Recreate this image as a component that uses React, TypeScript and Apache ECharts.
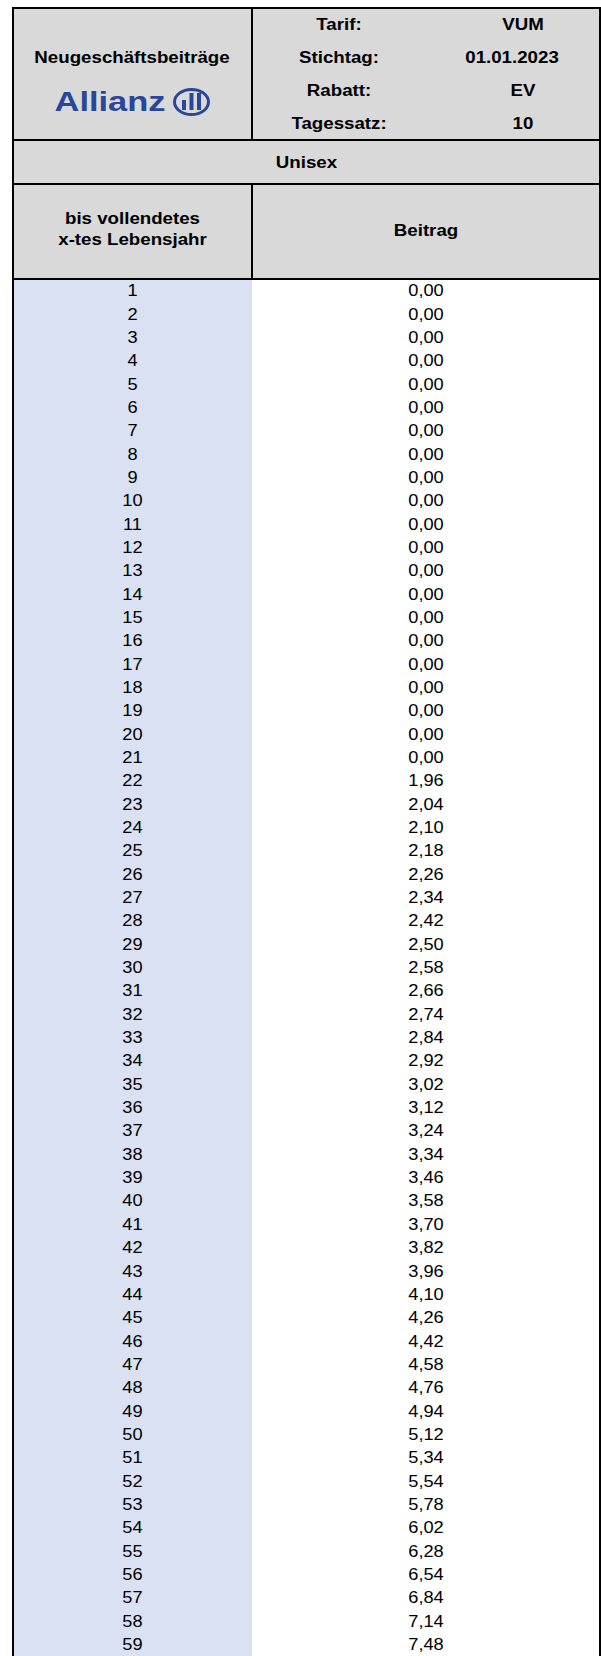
import React, { useEffect, useRef } from "react";
import * as echarts from "echarts";

// ---------- data ----------
const ages = [
  1, 2, 3, 4, 5, 6, 7, 8, 9, 10, 11, 12, 13, 14, 15, 16, 17, 18, 19, 20,
  21, 22, 23, 24, 25, 26, 27, 28, 29, 30, 31, 32, 33, 34, 35, 36, 37, 38, 39, 40,
  41, 42, 43, 44, 45, 46, 47, 48, 49, 50, 51, 52, 53, 54, 55, 56, 57, 58, 59,
];
const beitrag = [
  0, 0, 0, 0, 0, 0, 0, 0, 0, 0, 0, 0, 0, 0, 0, 0, 0, 0, 0, 0,
  0, 1.96, 2.04, 2.1, 2.18, 2.26, 2.34, 2.42, 2.5, 2.58, 2.66, 2.74, 2.84, 2.92, 3.02, 3.12, 3.24, 3.34, 3.46, 3.58,
  3.7, 3.82, 3.96, 4.1, 4.26, 4.42, 4.58, 4.76, 4.94, 5.12, 5.34, 5.54, 5.78, 6.02, 6.28, 6.54, 6.84, 7.14, 7.48,
];
const headerLabels = ["Tarif:", "Stichtag:", "Rabatt:", "Tagessatz:"];
const headerValues = ["VUM", "01.01.2023", "EV", "10"];
const titleText = "Neugeschäftsbeiträge";
const brandText = "Allianz";
const groupText = "Unisex";
const ageHeaderLines = ["bis vollendetes", "x-tes Lebensjahr"];
const valueHeader = "Beitrag";

// ---------- layout ----------
const W = 601;
const H = 1656;
const L = 13;
const R = 600;
const T = 8;
const SPLIT = 252;
const HEAD1 = 140;
const HEAD2 = 184;
const HEAD3 = 279;
const ROW_H = 23.4;
const FONT = "'Liberation Sans', Arial, sans-serif";
const GREY = "#d9d9d9";
const BLUE = "#d9e1f2";
const BRAND = "#2a469b";
const HEAD_SIZE = 17;
const HEAD_SX = 1.1;
const DATA_SIZE = 16;
const DATA_SX = 1.14;
const valueX = [523, 512, 523, 523];

const fmt = (v: number) => v.toFixed(2).replace(".", ",");

function txt(text: string, x: number, y: number, size: number, bold: boolean, fill = "#000", sx = HEAD_SX) {
  return {
    type: "text",
    x,
    y,
    scaleX: sx,
    z: 20,
    style: {
      text,
      x: 0,
      y: 0,
      fill,
      fontSize: size,
      fontWeight: bold ? "bold" : "normal",
      fontFamily: FONT,
      textAlign: "center",
      textVerticalAlign: "middle",
      align: "center",
      verticalAlign: "middle",
    },
  };
}

function line(x1: number, y1: number, x2: number, y2: number, w = 2) {
  return {
    type: "line",
    z: 30,
    shape: { x1, y1, x2, y2 },
    style: { stroke: "#000", lineWidth: w },
  };
}

export default function App() {
  const ref = useRef<HTMLDivElement>(null);

  useEffect(() => {
    document.body.style.margin = "0";
    if (!ref.current) return;
    const chart = echarts.init(ref.current, undefined, { renderer: "svg" });
    const split = (SPLIT - L) / (R - L);
    const hRow = (HEAD1 - T) / 4;

    const graphics: any[] = [];
    graphics.push({ type: "rect", z: 10, shape: { x: L, y: T, width: R - L, height: HEAD3 - T }, style: { fill: GREY } });
    graphics.push(txt(titleText, 132, 57, HEAD_SIZE, true));
    graphics.push(txt(brandText, 110, 102, 28, true, BRAND, 1.23));
    graphics.push({
      type: "ellipse",
      z: 20,
      shape: { cx: 191.5, cy: 102, rx: 17, ry: 12.5 },
      style: { fill: "none", stroke: BRAND, lineWidth: 3 },
    });
    graphics.push({ type: "rect", z: 20, shape: { x: 182, y: 100, width: 4, height: 10 }, style: { fill: BRAND } });
    graphics.push({ type: "rect", z: 20, shape: { x: 189.5, y: 93, width: 4, height: 17 }, style: { fill: BRAND } });
    graphics.push({ type: "rect", z: 20, shape: { x: 197, y: 93, width: 4, height: 17 }, style: { fill: BRAND } });
    headerLabels.forEach((lab, i) => {
      const y = T + (i + 0.5) * hRow;
      graphics.push(txt(lab, 339, y, HEAD_SIZE, true));
      graphics.push(txt(headerValues[i], valueX[i], y, HEAD_SIZE, true));
    });
    graphics.push(txt(groupText, (L + R) / 2, (HEAD1 + HEAD2) / 2, HEAD_SIZE, true));
    graphics.push(txt(ageHeaderLines[0], (L + SPLIT) / 2, 218, HEAD_SIZE, true));
    graphics.push(txt(ageHeaderLines[1], (L + SPLIT) / 2, 239, HEAD_SIZE, true));
    graphics.push(txt(valueHeader, (SPLIT + R) / 2, 230, HEAD_SIZE, true));
    graphics.push(line(L, T, R, T));
    graphics.push(line(L, T - 1, L, H));
    graphics.push(line(R, T - 1, R, H));
    graphics.push(line(SPLIT, T, SPLIT, HEAD1));
    graphics.push(line(SPLIT, HEAD2, SPLIT, HEAD3));
    graphics.push(line(L, HEAD1, R, HEAD1));
    graphics.push(line(L, HEAD2, R, HEAD2));
    graphics.push(line(L, HEAD3, R, HEAD3));

    chart.setOption({
      animation: false,
      grid: { left: L, right: W - R, top: HEAD3, height: ages.length * ROW_H },
      xAxis: { type: "value", min: 0, max: 1, show: false },
      yAxis: {
        type: "category",
        data: ages.map(String),
        inverse: true,
        show: false,
      },
      series: [
        {
          type: "custom",
          data: ages.map((a, i) => [i, beitrag[i]]),
          encode: { y: 0 },
          clip: false,
          renderItem: (params: any, api: any) => {
            const idx = api.value(0);
            const left = api.coord([0, idx]);
            const right = api.coord([1, idx]);
            const mid = api.coord([split, idx]);
            const h = api.size([0, 1])[1];
            const y = left[1];
            const cellText = (text: string, cx: number) => ({
              type: "text",
              x: cx,
              y,
              scaleX: DATA_SX,
              style: {
                text,
                x: 0,
                y: 0,
                align: "center",
                verticalAlign: "middle",
                fontSize: DATA_SIZE,
                fontFamily: FONT,
                fill: "#000",
              },
            });
            return {
              type: "group",
              children: [
                {
                  type: "rect",
                  shape: { x: left[0], y: y - h / 2, width: mid[0] - left[0], height: h + 0.6 },
                  style: { fill: BLUE },
                },
                cellText(String(ages[idx]), (left[0] + mid[0]) / 2),
                cellText(fmt(api.value(1)), (mid[0] + right[0]) / 2),
              ],
            };
          },
        },
      ],
      graphic: { elements: graphics },
    });
    return () => chart.dispose();
  }, []);

  return <div ref={ref} style={{ width: W, height: H }} />;
}
